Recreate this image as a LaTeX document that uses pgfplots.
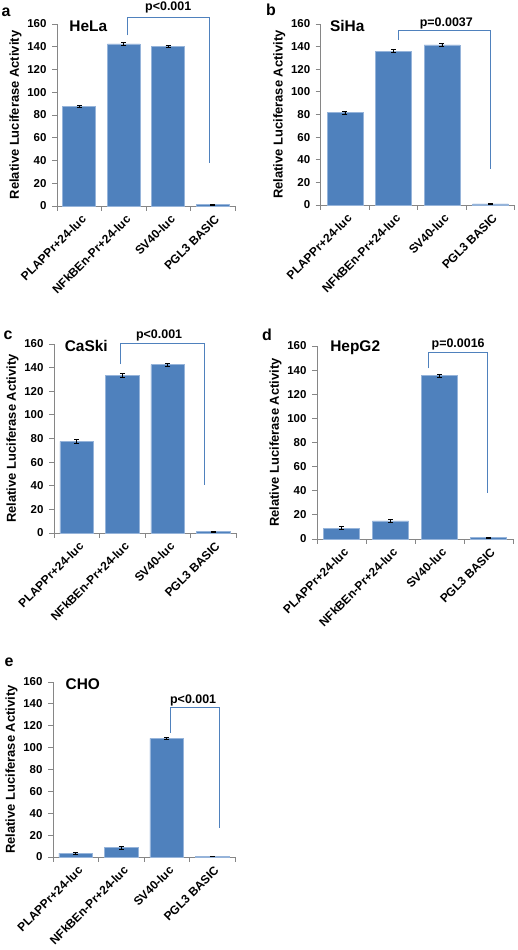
\documentclass[border=0pt]{standalone}
\usepackage{fontspec}
\setmainfont{Liberation Sans}
\usepackage{pgfplots}
\pgfplotsset{compat=1.18}
\definecolor{barblue}{RGB}{79,129,189}
\definecolor{baredge}{RGB}{150,180,218}
\definecolor{axgray}{RGB}{134,134,134}
\pgfplotsset{
 panel/.style={
  scale only axis, ybar, bar width=0.74, ymin=0, ymax=160, xmin=-0.5, xmax=3.5,
  ytick={0,20,...,160}, xtick={0,1,2,3},
  xticklabels={PLAPPr+24-luc, NFkBEn-Pr+24-luc, SV40-luc, PGL3 BASIC},
  minor xtick={-0.5,0.5,1.5,2.5,3.5},
  axis x line*=bottom, axis y line*=left,
  axis line style={axgray, line width=0.8pt, -},
  tick align=outside, major tick length=5bp, minor tick length=5bp,
  tick style={axgray, line width=0.8pt},
  major x tick style={draw=none},
  /pgf/number format/assume math mode=true,
  yticklabel style={font=\bfseries\fontsize{11.5}{11.5}\selectfont, xshift=-2bp},
  xticklabel style={font=\bfseries\fontsize{12}{12}\selectfont, rotate=45, anchor=north east, inner sep=1bp, yshift=-2bp},
  ylabel={Relative Luciferase Activity},
  ylabel style={font=\bfseries\fontsize{13}{13}\selectfont, yshift=-1bp},
  clip=false,
 },
 barsty/.style={fill=barblue, draw=baredge, line width=0.7pt,
  error bars/.cd, y dir=both, y explicit,
  error bar style={black, line width=0.9pt},
  error mark options={black, rotate=90, mark size=2.5bp, line width=0.9pt}},
}
\tikzset{
 brk/.style={barblue, line width=0.8pt},
 pval/.style={font=\bfseries\fontsize{12.5}{12.5}\selectfont},
 ttl/.style={anchor=west, font=\bfseries\fontsize{15.5}{16}\selectfont},
}
\begin{document}
\begin{tikzpicture}[x=1bp,y=1bp]
\path[use as bounding box] (0,0) rectangle (518,950);
% a HeLa
\begin{axis}[panel, at={(57bp,744bp)}, anchor=south west, width=178bp, height=182bp]
\addplot[barsty] coordinates {(0,87.5) +- (0,1) (1,142.5) +- (0,1.5) (2,140.5) +- (0,1) (3,1) +- (0,0.5)};
\draw[brk] (axis cs:1.08,150) -- (axis cs:1.08,166) -- (axis cs:2.92,166) -- (axis cs:2.92,38);
\node[pval] at (axis cs:2.0,174.5) {p<0.001};
\node[ttl] at (rel axis cs:0.05,0.99) {HeLa};
\end{axis}
% b SiHa
\begin{axis}[panel, at={(320.7bp,745bp)}, anchor=south west, width=194bp, height=181bp]
\addplot[barsty] coordinates {(0,81.5) +- (0,1.5) (1,136) +- (0,1.5) (2,141.5) +- (0,1.2) (3,1) +- (0,0.5)};
\draw[brk] (axis cs:1.1,146) -- (axis cs:1.1,154) -- (axis cs:3.0,154) -- (axis cs:3.0,32);
\node[pval] at (axis cs:2.09,160.5) {p=0.0037};
\node[ttl] at (rel axis cs:0.03,0.99) {SiHa};
\end{axis}
% c CaSki
\begin{axis}[panel, at={(54bp,417bp)}, anchor=south west, width=182bp, height=189bp]
\addplot[barsty] coordinates {(0,77.5) +- (0,1.5) (1,133.5) +- (0,1.5) (2,142.5) +- (0,1.2) (3,1) +- (0,0.5)};
\draw[brk] (axis cs:0.97,143) -- (axis cs:0.97,160.5) -- (axis cs:2.8,160.5) -- (axis cs:2.8,41);
\node[pval] at (axis cs:1.81,167.5) {p<0.001};
\node[ttl] at (rel axis cs:0.04,0.99) {CaSki};
\end{axis}
% d HepG2
\begin{axis}[panel, at={(317bp,411bp)}, anchor=south west, width=196bp, height=193bp]
\addplot[barsty] coordinates {(0,9) +- (0,1.5) (1,15) +- (0,1.5) (2,135.5) +- (0,1.2) (3,1) +- (0,0.5)};
\draw[brk] (axis cs:1.78,141.5) -- (axis cs:1.78,154.5) -- (axis cs:2.98,154.5) -- (axis cs:2.98,38);
\node[pval] at (axis cs:2.38,161.5) {p=0.0016};
\node[ttl] at (rel axis cs:0.05,0.99) {HepG2};
\end{axis}
% e CHO
\begin{axis}[panel, at={(53bp,93bp)}, anchor=south west, width=182bp, height=175bp]
\addplot[barsty] coordinates {(0,3.5) +- (0,1) (1,8.5) +- (0,1.2) (2,108.5) +- (0,1) (3,0.5) +- (0,0.3)};
\draw[brk] (axis cs:2.09,113.5) -- (axis cs:2.09,137) -- (axis cs:3.15,137) -- (axis cs:3.15,26.5);
\node[pval] at (axis cs:2.58,143.5) {p<0.001};
\node[ttl] at (rel axis cs:0.05,0.99) {CHO};
\end{axis}
% panel letters
\begin{scope}[every node/.style={font=\bfseries\fontsize{16}{16}\selectfont}]
\node at (6,938) {a};
\node at (271,940) {b};
\node at (8,615) {c};
\node at (267,615) {d};
\node at (9,288) {e};
\end{scope}
\end{tikzpicture}
\end{document}
